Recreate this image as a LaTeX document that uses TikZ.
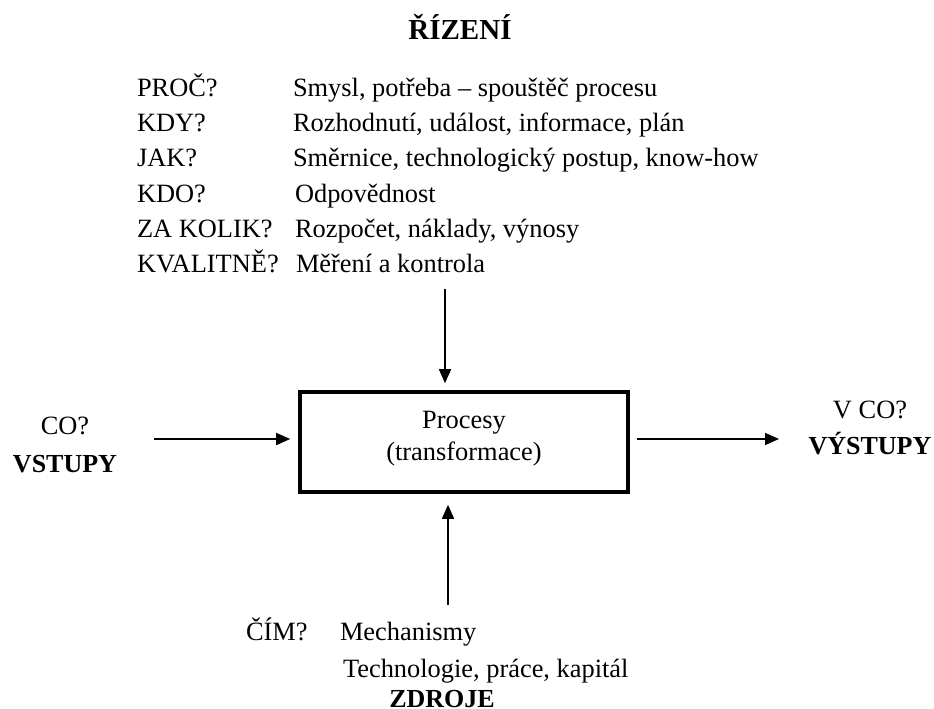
\documentclass[tikz,border=0pt]{standalone}
\usepackage{fontspec}
\setmainfont{Liberation Serif}
\usetikzlibrary{arrows.meta}

\tikzset{
  txt/.style={inner sep=0pt, outer sep=0pt, anchor=base west,
              font=\fontsize{26.4}{30}\selectfont},
  ctxt/.style={txt, anchor=base},
  bold/.style={ctxt, font=\fontsize{26}{30}\selectfont\bfseries},
  flow/.style={line width=1.6pt,
               -{Triangle[length=14pt,width=12pt]}},
  procbox/.style={draw, line width=3.6pt, minimum width=328pt,
                  minimum height=100pt, inner sep=0pt}
}

\begin{document}
\begin{tikzpicture}[x=1pt,y=-1pt]
  \useasboundingbox (0,0) rectangle (934,709);

  % control (top)
  \node[ctxt, font=\fontsize{29}{32}\selectfont\bfseries] (rizeni) at (460,40) {ŘÍZENÍ};

  \node[txt] (q1) at (137,96)  {PROČ?};
  \node[txt] (q2) at (137,131) {KDY?};
  \node[txt] (q3) at (137,166) {JAK?};
  \node[txt] (q4) at (137,202) {KDO?};
  \node[txt] (q5) at (137,237) {ZA KOLIK?};
  \node[txt] (q6) at (137,272) {KVALITNĚ?};

  \node[txt] (a1) at (293,96)  {Smysl, potřeba – spouštěč procesu};
  \node[txt] (a2) at (293,131) {Rozhodnutí, událost, informace, plán};
  \node[txt] (a3) at (293,166) {Směrnice, technologický postup, know-how};
  \node[txt] (a4) at (295,202) {Odpovědnost};
  \node[txt] (a5) at (295,237) {Rozpočet, náklady, výnosy};
  \node[txt] (a6) at (296,272) {Měření a kontrola};

  % process box
  \node[procbox] (proc) at (464,442) {};
  \node[ctxt] (procA) at (464,428) {Procesy};
  \node[ctxt] (procB) at (464,460) {(transformace)};

  % inputs
  \node[ctxt] (co) at (65,434) {CO?};
  \node[bold] (vstupy) at (65,472) {VSTUPY};

  % outputs
  \node[ctxt] (vco) at (870,418) {V CO?};
  \node[bold] (vystupy) at (870,454) {VÝSTUPY};

  % resources (bottom)
  \node[txt] (cim) at (246,640) {ČÍM?};
  \node[txt] (mech) at (340,640) {Mechanismy};
  \node[txt] (tech) at (343,677) {Technologie, práce, kapitál};
  \node[bold] (zdroje) at (442,707) {ZDROJE};

  % connector ends
  \coordinate (ctlstart) at (445,289);
  \coordinate (instart) at (154,439);
  \coordinate (outend) at (779,439);
  \coordinate (resstart) at (448,605);

  \draw[flow, shorten >=7pt] (ctlstart) -- (ctlstart |- proc.north);
  \draw[flow, shorten >=8pt] (instart) -- (instart -| proc.west);
  \draw[flow, shorten <=7pt] (outend -| proc.east) -- (outend);
  \draw[flow, shorten >=11pt] (resstart) -- (resstart |- proc.south);
\end{tikzpicture}
\end{document}
